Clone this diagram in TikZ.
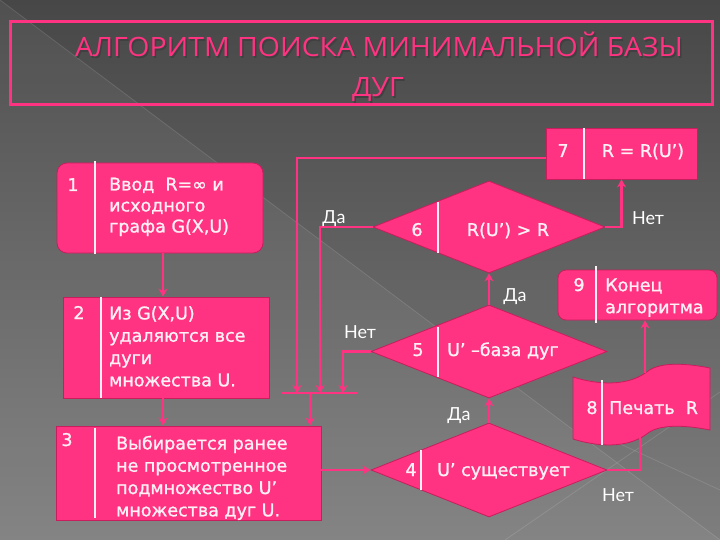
\documentclass[tikz,border=0pt]{standalone}
\usepackage{fontspec}
\setmainfont{DejaVu Sans}
\newfontfamily\bodyfont{DejaVu Sans}[FakeBold=1.2, Ligatures=TeX]
\newfontfamily\titlefont{Open Sans}[FakeStretch=1.07]
\newfontfamily\lblfont{Lato}
\usetikzlibrary{shapes.geometric,arrows.meta}
\definecolor{pk}{HTML}{FF3381}
\definecolor{pkdark}{HTML}{C81E5E}
\definecolor{txt}{HTML}{FFF0F6}
\definecolor{bgtop}{HTML}{474747}
\definecolor{bgbot}{HTML}{7E7E7E}
\begin{document}
\begin{tikzpicture}[x=1pt,y=-1pt,
  box/.style={fill=pk, draw=pkdark, line width=0.8pt, inner sep=0pt},
  dia/.style={box, shape=diamond},
  sepline/.style={draw=txt, line width=2.2pt},
  conn/.style={draw=pk, line width=2.6pt},
  arr/.style={conn, -{Stealth[length=8pt,width=9pt]}},
  num/.style={font=\bodyfont\fontsize{17.5}{22}\selectfont, text=txt, inner sep=0pt, anchor=base},
  body/.style={font=\bodyfont\fontsize{17.5}{22.3}\selectfont, text=txt, align=left, inner sep=0pt, anchor=north west},
  lbl/.style={font=\lblfont\fontsize{18}{20}\selectfont, text=white, inner sep=0pt},
  ttl/.style={font=\titlefont\fontsize{26.6}{30}\selectfont, inner sep=0pt, anchor=base},
]
\useasboundingbox (0,0) rectangle (720,540);
% background
\fill[top color=bgtop, bottom color=bgbot] (0,0) rectangle (720,540);
\fill[white, opacity=0.05] (0,0) -- (720,540) -- (0,540) -- cycle;
\draw[white, opacity=0.12, line width=0.8pt] (0,0) -- (720,540);
\draw[white, opacity=0.12, line width=0.8pt] (505,540) -- (720,392);
\draw[white, opacity=0.12, line width=0.8pt] (590,430) -- (720,490);

% title
\node[draw=pk, line width=3pt, minimum width=702, minimum height=83, inner sep=0pt] (titlebox) at (361,63.5) {};
\node[ttl, text=black!75] at (380.5,58.5) {АЛГОРИТМ ПОИСКА МИНИМАЛЬНОЙ БАЗЫ};
\node[ttl, text=black!75] at (379.5,98.5) {ДУГ};
\node[ttl, text=pk] (t1) at (379,57) {АЛГОРИТМ ПОИСКА МИНИМАЛЬНОЙ БАЗЫ};
\node[ttl, text=pk] (t2) at (378,97) {ДУГ};

% node 1
\node[box, rounded corners=10pt, minimum width=206, minimum height=90] (n1) at (160,208) {};
\draw[sepline] (95,161) -- (95,254);
\node[num] at (73,191) {1};
\node[body, font=\bodyfont\fontsize{17.5}{21}\selectfont] at (109,175.6) {\strut Ввод~ R=∞ и\\исходного\\графа G(X,U)};

% node 2
\node[box, minimum width=206, minimum height=101] (n2) at (166,347.5) {};
\draw[sepline] (101,297) -- (101,398);
\node[num] at (79,319) {2};
\node[body] at (109,303.6) {\strut Из G(X,U)\\удаляются все\\дуги\\множества U.};

% node 3
\node[box, minimum width=265, minimum height=94] (n3) at (188.5,473) {};
\draw[sepline] (95,428) -- (95,518);
\node[num] at (67,446) {3};
\node[body] at (116,433.6) {\strut Выбирается ранее\\не просмотренное\\подмножество U'\\множества дуг U.};

% diamond 6
\node[dia, minimum width=232, minimum height=92] (d6) at (489,227) {};
\draw[sepline] (438,202) -- (438,253);
\node[num] at (417,236) {6};
\node[num] at (508,236) {R(U') > R};

% diamond 5
\node[dia, minimum width=236, minimum height=93] (d5) at (489,351.5) {};
\draw[sepline] (438,327) -- (438,377);
\node[num] at (418,356) {5};
\node[num, anchor=base west] at (447,356) {U' –база дуг};

% diamond 4
\node[dia, minimum width=236, minimum height=94] (d4) at (489,470) {};
\draw[sepline] (421,450) -- (421,490);
\node[num] at (411,476) {4};
\node[num, anchor=base west] at (437,476) {U' существует};

% node 7
\node[box, minimum width=151, minimum height=51] (n7) at (621.5,153.5) {};
\draw[sepline] (584,128) -- (584,179);
\node[num] at (563,157) {7};
\node[num] at (643,157) {R = R(U')};

% node 9
\node[box, rounded corners=8pt, minimum width=159, minimum height=50] (n9) at (637.5,295) {};
\draw[sepline] (596,266) -- (596,323);
\node[num] at (579,291) {9};
\node[body, font=\bodyfont\fontsize{17.5}{22}\selectfont] at (605,275.6) {\strut Конец\\алгоритма};

% node 8 (punched tape)
\path[box] (573,377) .. controls (605,387) and (632,384) .. (648,371)
  .. controls (662,361) and (690,364) .. (710,368) -- (710,430)
  .. controls (690,426) and (662,423) .. (648,433)
  .. controls (632,446) and (605,449) .. (573,439) -- cycle;
\coordinate (n8t) at (645,373);
\coordinate (n8b) at (640,437);
\draw[sepline] (602,380) -- (602,445);
\node[num] at (592,414) {8};
\node[num, anchor=base west] at (609,414) {Печать~ R};

% bus
\coordinate (busL) at (282,393);
\coordinate (busR) at (357,393);
\coordinate (bus1) at (297,393);
\coordinate (bus2) at (320,393);
\coordinate (bus3) at (343,393);
\coordinate (busM) at (310,393);
\draw[conn] (busL) -- (busR);

% connectors
\draw[arr] ([xshift=3pt]n1.south) -- ([xshift=3pt]n1.south |- n2.north);
\draw[arr] ([xshift=-3pt]n2.south) -- ([xshift=-3pt]n2.south |- n3.north);
\draw[arr] (busM) -- (busM |- n3.north);
\draw[arr] ([yshift=-4.5pt]n7.west) -| (bus1);
\draw[arr] (d6.west) -| (bus2);
\draw[arr] (d5.west) -| (bus3);
\draw[arr] (d6.east) -| (n7.south);
\draw[arr] (d5.north) -- (d6.south);
\draw[arr] (d4.north) -- (d5.south);
\draw[arr] (n3.east |- d4.west) -- (d4.west);
\draw[conn] (d4.east) -| (n8b);
\draw[arr] (n8t) -- (n8t |- n9.south);

% labels
\node[lbl] at (334,219) {Да};
\node[lbl] at (648,218) {Нет};
\node[lbl] at (515,297) {Да};
\node[lbl] at (360,332) {Нет};
\node[lbl] at (459,416) {Да};
\node[lbl] at (618,495) {Нет};
\end{tikzpicture}
\end{document}
